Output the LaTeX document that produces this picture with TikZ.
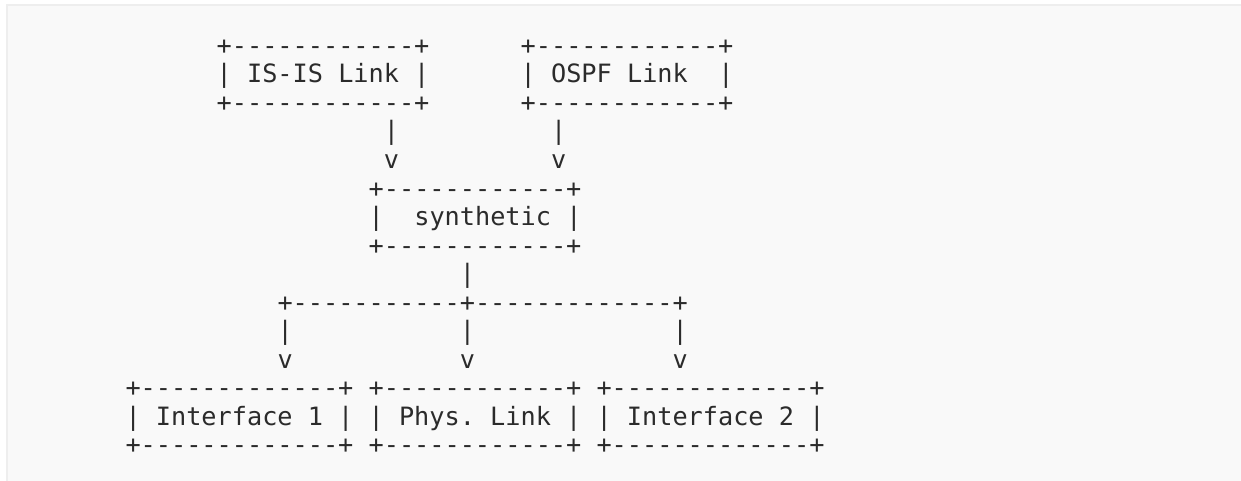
\documentclass[tikz,border=0pt]{standalone}
\usepackage{fontspec}
\setmonofont{DejaVu Sans Mono}
\definecolor{ink}{HTML}{2B2B2B}
\definecolor{prebg}{HTML}{F9F9F9}
\definecolor{preline}{HTML}{EEEEEE}
\tikzset{
  ascii/.style={font=\ttfamily\fontsize{12.62pt}{14pt}\selectfont,
    text=ink,anchor=base west,inner sep=0pt},
}
\newcommand{\colw}{15.2}
\newcommand{\rowh}{28.5}

\begin{document}
\begin{tikzpicture}[x=0.5pt,y=-0.5pt]
    \useasboundingbox (0,0) rectangle (1241,481);
    \fill[white] (0,0) rectangle (1241,481);
    \fill[prebg] (7,5) rectangle (1241,481);
    \draw[preline,line width=1pt] (7,481)--(7,5)--(1241,5);
    % row/column/text of every piece of the ascii drawing
    \foreach \r/\c/\t in {
        1/6/+------------+, 1/26/+------------+,
        2/6/| IS-IS Link |, 2/26/| OSPF Link, 2/39/|,
        3/6/+------------+, 3/26/+------------+,
        4/17/|, 4/28/|,
        5/17/v, 5/28/v,
        6/16/+------------+,
        7/16/|, 7/19/synthetic |,
        8/16/+------------+,
        9/22/|,
        10/10/+-----------+-------------+,
        11/10/|, 11/22/|, 11/36/|,
        12/10/v, 12/22/v, 12/36/v,
        13/0/+-------------+ +------------+ +-------------+,
        14/0/| Interface 1 | | Phys. Link | | Interface 2 |,
        15/0/+-------------+ +------------+ +-------------+}
      \node[ascii] (t\r-\c) at (125.1+\c*\colw, 54.5+\r*\rowh-\rowh) {\t};
  \end{tikzpicture}
\end{document}
